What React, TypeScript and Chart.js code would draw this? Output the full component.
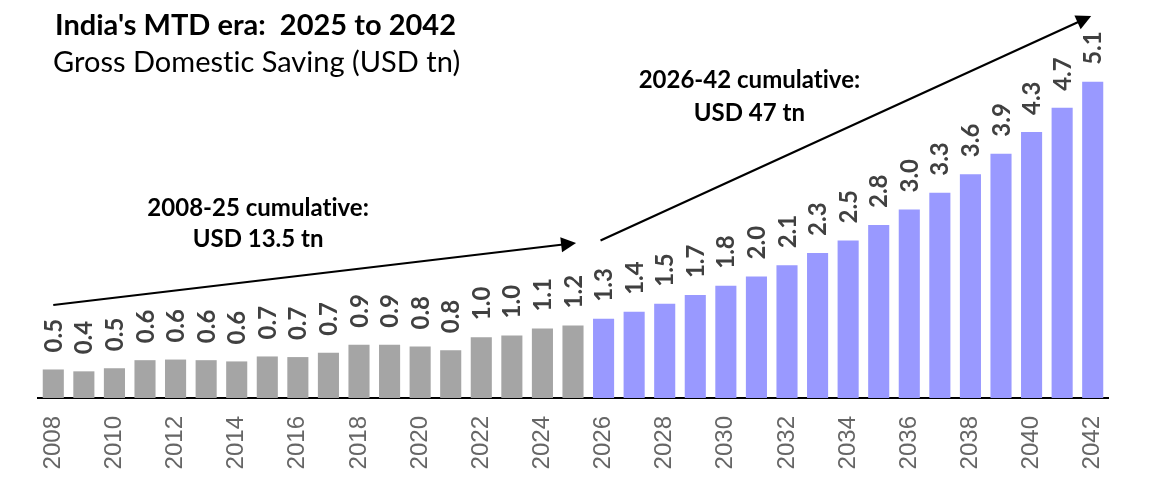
import { useEffect, useRef } from 'react';
import { Chart, registerables } from 'chart.js';

Chart.register(...registerables);

// Categories (years)
const years = [
  '2008', '2009', '2010', '2011', '2012', '2013', '2014', '2015', '2016',
  '2017', '2018', '2019', '2020', '2021', '2022', '2023', '2024', '2025',
  '2026', '2027', '2028', '2029', '2030', '2031', '2032', '2033', '2034',
  '2035', '2036', '2037', '2038', '2039', '2040', '2041', '2042',
];

// Gross Domestic Saving, USD tn — actuals 2008-2025
const historical = [
  0.46, 0.43, 0.48, 0.61, 0.62, 0.61, 0.59, 0.67, 0.66,
  0.73, 0.86, 0.86, 0.83, 0.77, 0.98, 1.01, 1.12, 1.17,
];

// Projections 2026-2042
const projected = [
  1.28, 1.39, 1.52, 1.66, 1.81, 1.96, 2.14, 2.34, 2.54,
  2.79, 3.04, 3.31, 3.61, 3.94, 4.29, 4.68, 5.1,
];

const titleText = "India's MTD era:  2025 to 2042";
const subtitleText = 'Gross Domestic Saving (USD tn)';

const noteLeft = ['2008-25 cumulative:', 'USD 13.5 tn'];
const noteRight = ['2026-42 cumulative:', 'USD 47 tn'];

// Annotation anchors in data space: x = category index, y = value
const noteLeftAnchor = { x: 6.7, y: [2.94, 2.44] };
const noteRightAnchor = { x: 22.77, y: [5.0, 4.47] };
const arrows = [
  { x0: 0, y0: 1.5, x1: 17.1, y1: 2.5 },
  { x0: 17.9, y0: 2.54, x1: 33.95, y1: 6.16 },
];

const GRAY = '#A5A5A5';
const PURPLE = '#9999FF';

const histData = [...historical, ...projected.map(() => null)];
const projData = [...historical.map(() => null), ...projected];

const valueLabels = {
  id: 'valueLabels',
  afterDatasetsDraw(chart: any) {
    const ctx = chart.ctx;
    ctx.save();
    ctx.font = 'bold 24px Lato';
    ctx.fillStyle = '#404040';
    ctx.textAlign = 'left';
    ctx.textBaseline = 'alphabetic';
    chart.data.datasets.forEach((ds: any, di: number) => {
      const meta = chart.getDatasetMeta(di);
      meta.data.forEach((bar: any, i: number) => {
        const v = ds.data[i];
        if (v == null) return;
        ctx.save();
        ctx.translate(bar.x + 8.5, bar.y - 17);
        ctx.rotate(-Math.PI / 2);
        ctx.fillText(v.toFixed(1), 0, 0);
        ctx.restore();
      });
    });
    ctx.restore();
  },
};

const annotations = {
  id: 'annotations',
  afterDraw(chart: any) {
    const ctx = chart.ctx;
    const xs = chart.scales.x;
    const ys = chart.scales.y;
    ctx.save();
    // non-zero letter spacing disables Lato's st / ti ligatures
    (ctx as any).letterSpacing = '0.01px';

    // Title
    ctx.fillStyle = '#000';
    ctx.textAlign = 'left';
    ctx.textBaseline = 'alphabetic';
    ctx.font = 'bold 29px Lato';
    ctx.fillText(titleText, 55, 35);
    ctx.font = '29px Lato';
    ctx.fillText(subtitleText, 53, 72);

    // Notes
    ctx.textAlign = 'center';
    ctx.font = 'bold 24px Lato';
    noteLeft.forEach((t, i) => {
      ctx.fillText(t, xs.getPixelForValue(noteLeftAnchor.x), ys.getPixelForValue(noteLeftAnchor.y[i]));
    });
    noteRight.forEach((t, i) => {
      ctx.fillText(t, xs.getPixelForValue(noteRightAnchor.x), ys.getPixelForValue(noteRightAnchor.y[i]));
    });

    // Arrows
    ctx.strokeStyle = '#000';
    ctx.lineWidth = 2.2;
    arrows.forEach((a) => {
      const x0 = xs.getPixelForValue(a.x0);
      const y0 = ys.getPixelForValue(a.y0);
      const x1 = xs.getPixelForValue(a.x1);
      const y1 = ys.getPixelForValue(a.y1);
      const ang = Math.atan2(y1 - y0, x1 - x0);
      const hl = 15;
      const hw = 7.5;
      const bx = x1 - hl * Math.cos(ang);
      const by = y1 - hl * Math.sin(ang);
      ctx.beginPath();
      ctx.moveTo(x0, y0);
      ctx.lineTo(bx + 2 * Math.cos(ang), by + 2 * Math.sin(ang));
      ctx.stroke();
      ctx.beginPath();
      ctx.moveTo(x1, y1);
      ctx.lineTo(bx - hw * Math.sin(ang), by + hw * Math.cos(ang));
      ctx.lineTo(bx + hw * Math.sin(ang), by - hw * Math.cos(ang));
      ctx.closePath();
      ctx.fillStyle = '#000';
      ctx.fill();
    });

    ctx.restore();
  },
};

export default function App() {
  const ref = useRef<HTMLCanvasElement | null>(null);

  useEffect(() => {
    if (!ref.current) return;
    const chart = new Chart(ref.current, {
      type: 'bar',
      data: {
        labels: years,
        datasets: [
          {
            data: histData,
            backgroundColor: GRAY,
            borderWidth: 0,
            barPercentage: 0.69,
            categoryPercentage: 1,
          },
          {
            data: projData,
            backgroundColor: PURPLE,
            borderWidth: 0,
            barPercentage: 0.69,
            categoryPercentage: 1,
          },
        ],
      },
      options: {
        animation: false,
        responsive: false,
        devicePixelRatio: 1,
        layout: { padding: { top: 26, left: 38, right: 54, bottom: 0 } },
        plugins: {
          legend: { display: false },
          tooltip: { enabled: false },
          title: { display: false },
        },
        scales: {
          x: {
            stacked: true,
            grid: { display: false, drawTicks: false },
            border: { display: true, color: '#000', width: 2 },
            ticks: {
              autoSkip: false,
              maxRotation: 90,
              minRotation: 90,
              padding: 18,
              color: '#666666',
              font: { family: 'Liberation Sans, Arial, sans-serif', size: 24 },
              callback: function (this: any, val: any, idx: number) {
                return idx % 2 === 0 ? this.getLabelForValue(val) : '';
              },
            },
            afterFit: (scale: any) => {
              scale.height = 92;
            },
          },
          y: {
            stacked: true,
            display: false,
            min: 0,
            max: 6,
          },
        },
      },
      plugins: [valueLabels, annotations],
    });
    return () => chart.destroy();
  }, []);

  return (
    <div style={{ position: 'absolute', left: 0, top: 0, width: 1162, height: 490, background: '#fff' }}>
      <canvas ref={ref} width={1162} height={490} />
    </div>
  );
}
